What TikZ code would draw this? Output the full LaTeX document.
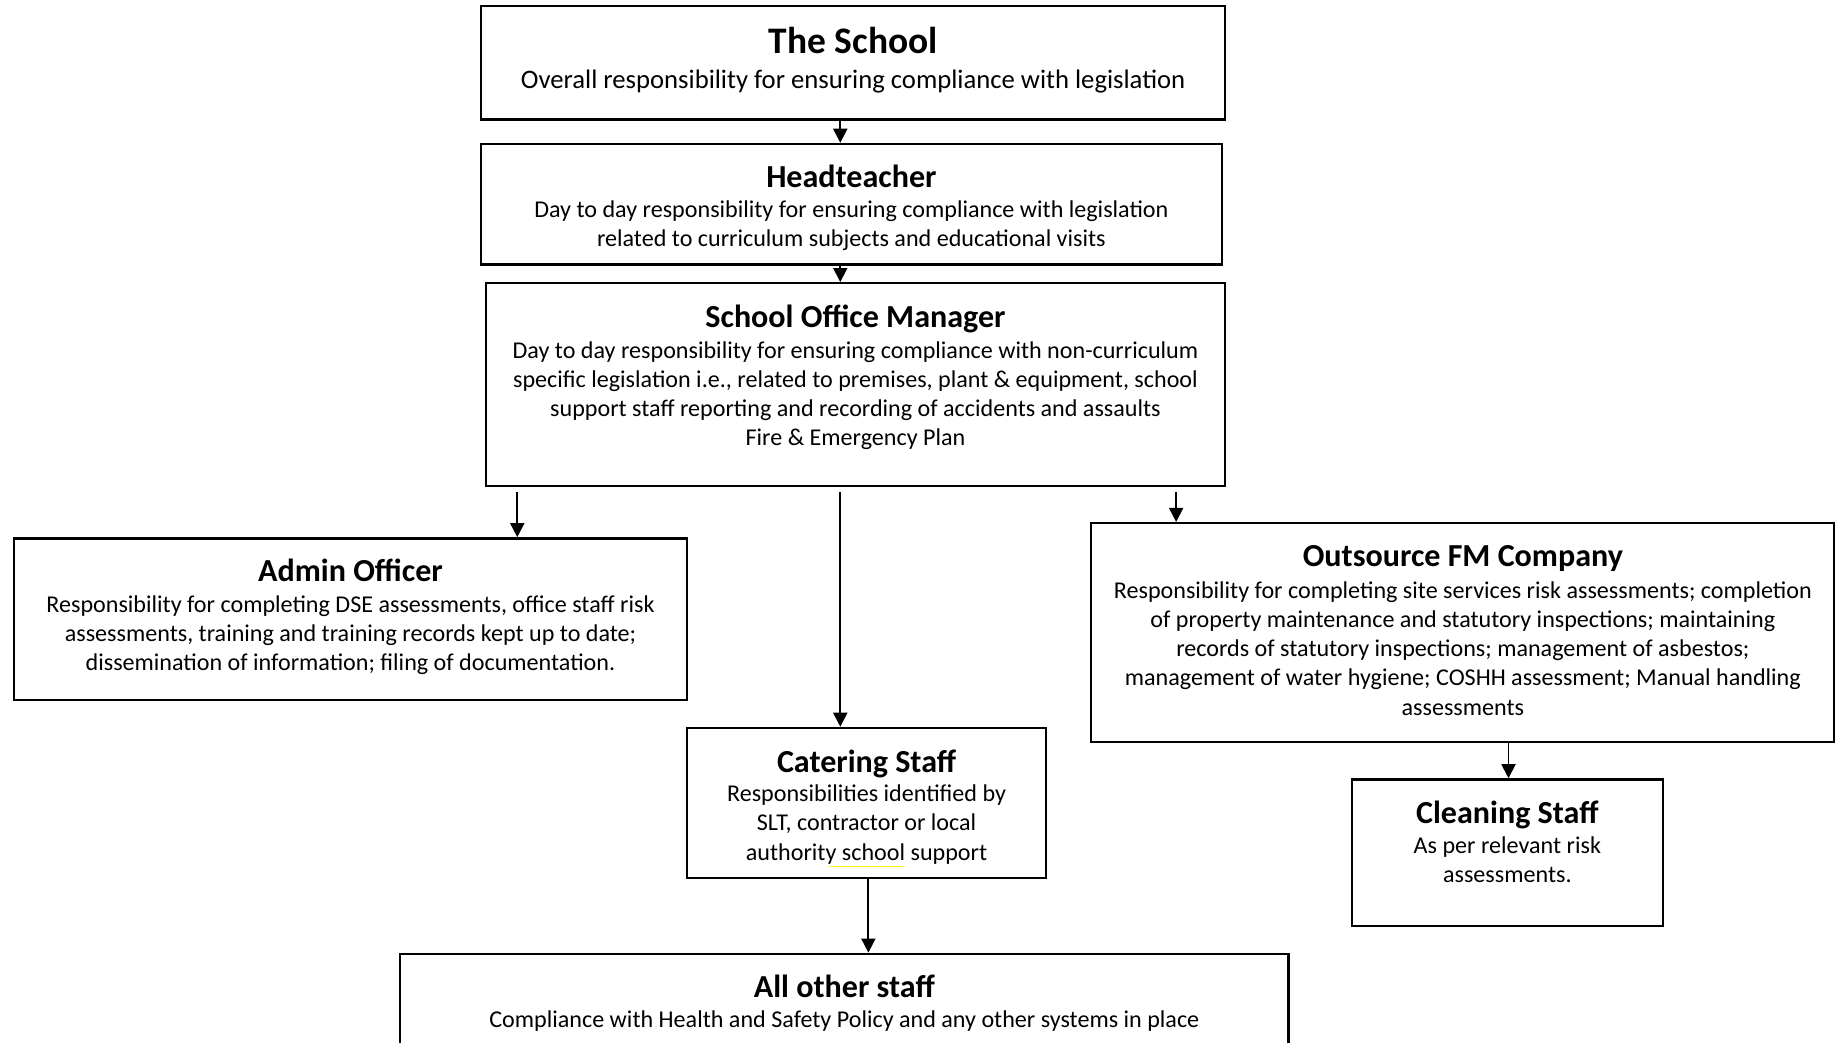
\documentclass[tikz,border=0pt]{standalone}
\usepackage{fontspec}
\setmainfont{Carlito}
\usetikzlibrary{arrows.meta,fit,positioning}

\tikzset{
  box/.style={draw, line width=1pt, inner sep=0pt},
  ttl/.style={font=\bfseries\fontsize{13.7}{17}\selectfont, anchor=base, inner sep=0pt},
  txt/.style={font=\fontsize{10.3}{12.5}\selectfont, align=center, anchor=base, inner sep=0pt},
  arr/.style={-{Triangle[length=6pt,width=6pt]}, line width=0.75pt},
}

\begin{document}
\begin{tikzpicture}[x=0.5pt,y=-0.5pt]
    \clip (0,0) rectangle (1568,891);

    % boxes
    \node[box, fit={(411,5) (1047,102)}] (school) {};
    \node[box, fit={(411,123) (1044,226)}] (head) {};
    \node[box, fit={(415,242) (1047,415)}] (som) {};
    \node[box, fit={(12,460) (587,598)}] (admin) {};
    \node[box, fit={(932,447) (1567,634)}] (outsrc) {};
    \node[box, fit={(587,622) (894,750)}] (cater) {};
    \node[box, fit={(1155,666) (1421,791)}] (clean) {};
    \node[box, fit={(342,815) (1101,910)}] (allstaff) {};

    % titles and texts (base = last line)
    \node[ttl, font=\bfseries\fontsize{16}{19}\selectfont] (schoolttl) at (729,46) {The School};
    \node[txt, font=\fontsize{11.4}{13.5}\selectfont] (schooltxt) at (729,76) {Overall responsibility for ensuring compliance with legislation};

    \node[ttl] (headttl) at (727.5,160) {Headteacher};
    \node[txt] (headtxt) at (727.5,211) {Day to day responsibility for ensuring compliance with legislation\\
        related to curriculum subjects and educational visits};

    \node[ttl] (somttl) at (731,280) {School Office Manager};
    \node[txt] (somtxt) at (731,381) {Day to day responsibility for ensuring compliance with non-curriculum\\
        specific legislation i.e., related to premises, plant \& equipment, school\\
        support staff reporting and recording of accidents and assaults\\
        Fire \& Emergency Plan};

    \node[ttl] (adminttl) at (299.5,497) {Admin Officer};
    \node[txt] (admintxt) at (299.5,573) {Responsibility for completing DSE assessments, office staff risk\\
        assessments, training and training records kept up to date;\\
        dissemination of information; filing of documentation.};

    \node[ttl] (outsrcttl) at (1250,484) {Outsource FM Company};
    \node[txt] (outsrctxt) at (1250,611) {Responsibility for completing site services risk assessments; completion\\
        of property maintenance and statutory inspections; maintaining\\
        records of statutory inspections; management of asbestos;\\
        management of water hygiene; COSHH assessment; Manual handling\\
        assessments};

    \node[ttl] (caterttl) at (740.5,660) {Catering Staff};
    \node[txt] (catertxt) at (740.5,735) {Responsibilities identified by\\
        SLT, contractor or local\\
        authority school support};
    \draw[yellow, line width=0.6pt] (708.5,740.5) -- (772.5,740.5);

    \node[ttl] (cleanttl) at (1288,704) {Cleaning Staff};
    \node[txt] (cleantxt) at (1288,754) {As per relevant risk\\
        assessments.};

    \node[ttl] (allttl) at (721.5,852) {All other staff};
    \node[txt] (alltxt) at (721.5,878) {Compliance with Health and Safety Policy and any other systems in place};

    % connectors
    \coordinate (c1) at (718,0);
    \coordinate (c2) at (442,0);
    \coordinate (c3) at (1005,0);
    \coordinate (c4) at (1289,0);
    \coordinate (c5) at (742,0);
    \draw[arr] (school.south -| c1) -- (head.north -| c1);
    \draw[arr] (head.south -| c1) -- (som.north -| c1);
    \draw[arr, shorten <=2pt] (som.south -| c2) -- (admin.north -| c2);
    \draw[arr, shorten <=2pt] (som.south -| c1) -- (cater.north -| c1);
    \draw[arr, shorten <=2pt] (som.south -| c3) -- (outsrc.north -| c3);
    \draw[arr] (outsrc.south -| c4) -- (clean.north -| c4);
    \draw[arr] (cater.south -| c5) -- (allstaff.north -| c5);
\end{tikzpicture}
\end{document}
